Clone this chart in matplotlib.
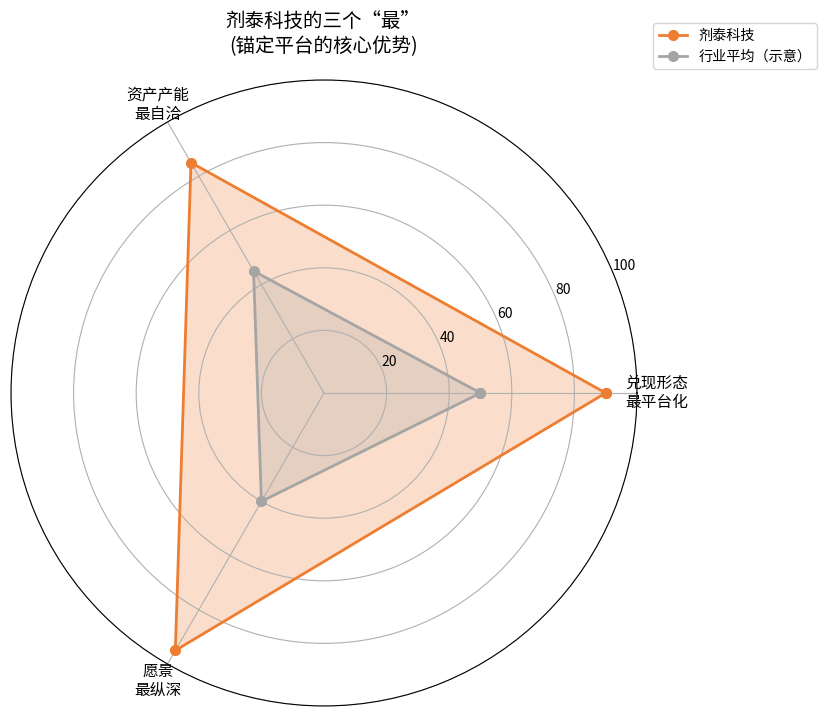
import numpy as np
import matplotlib
matplotlib.use("Agg")
import matplotlib.pyplot as plt

plt.rcParams['font.family'] = ['Noto Sans CJK SC', 'DejaVu Sans']

categories = ["兑现形态\n最平台化", "资产产能\n最自洽", "愿景\n最纵深"]
company = [90, 85, 95]
industry = [50, 45, 40]
company_name = "剂泰科技"
industry_name = "行业平均（示意）"

n = len(categories)
angles = np.linspace(0, 2 * np.pi, n, endpoint=False).tolist()
angles += angles[:1]
company_c = company + company[:1]
industry_c = industry + industry[:1]

orange = "#ED7D31"
gray = "#A5A5A5"

fig = plt.figure(figsize=(8.31, 7.19), dpi=100)
ax = fig.add_axes([0.01324, 0.01808, 0.7533, 0.8707], projection="polar")

ax.plot(angles, company_c, color=orange, linewidth=2, marker="o", markersize=7, label=company_name)
ax.fill(angles, company_c, color=orange, alpha=0.25)
ax.plot(angles, industry_c, color=gray, linewidth=2, marker="o", markersize=7, label=industry_name)
ax.fill(angles, industry_c, color=gray, alpha=0.25)

ax.set_ylim(0, 100)
ax.set_yticks([20, 40, 60, 80, 100])
ax.set_yticklabels(["20", "40", "60", "80", "100"], fontsize=10)
ax.set_xticks(angles[:-1])
ax.set_xticklabels(categories, fontsize=11.3)
ax.grid(color="#b0b0b0", linewidth=0.8)

fig.suptitle("剂泰科技的三个“最”\n(锚定平台的核心优势)", x=0.389, y=0.985, fontsize=14,
             va="top", linespacing=1.25)

fig.legend(loc="upper right", bbox_to_anchor=(0.992, 0.978), fontsize=10.2)

fig.savefig("out.png", dpi=100)
